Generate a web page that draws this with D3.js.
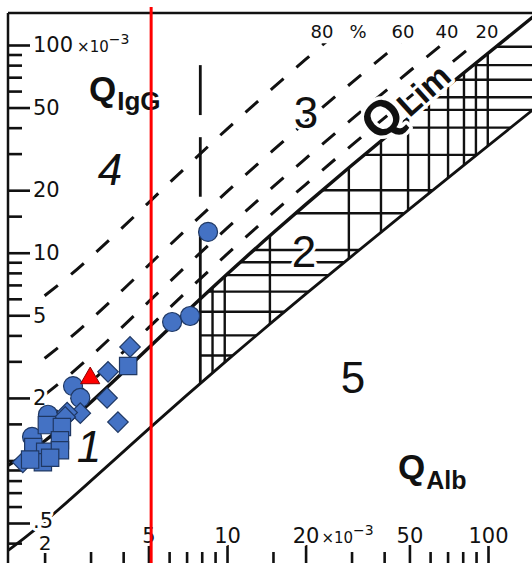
<!DOCTYPE html>
<html lang="en">
<head>
<meta charset="UTF-8">
<script src="https://d3js.org/d3.v7.min.js"></script>
<title>Reiber diagram</title>
<style>
  html, body { margin: 0; padding: 0; background: #fff; }
  svg { display: block; }
</style>
</head>
<body>
<script>
// all quotients in units of 10^-3

// reference curves, read along a QAlb grid
const curveAlb   = [1.4, 1.7, 2, 2.5, 3, 4, 5, 7, 10, 15, 20, 30, 50, 80, 150];
const limUpper   = [0.924, 1.073, 1.241, 1.555, 1.902, 2.662, 3.478, 5.197, 7.875, 12.435, 17.039, 26.293, 44.856, 72.735, 137.82];
const limLower   = [0.357, 0.430, 0.508, 0.648, 0.795, 1.100, 1.415, 2.057, 3.033, 4.672, 6.316, 9.611, 16.207, 26.104, 49.202];

// intrathecal fraction lines (20/40/60/80 %)
const pctAlb = [2, 2.5, 3, 4, 5, 7, 10, 15, 20, 30, 50, 80, 100];
const pct20  = [1.551, 1.944, 2.378, 3.328, 4.348, 6.496, 9.844, 15.544, 21.299, 32.866, 56.07, 90.92, 114.16];
const pct40  = [2.068, 2.592, 3.170, 4.437, 5.797, 8.662, 13.125, 20.725, 28.398, 43.822, 74.76, 121.2];
const pct60  = [3.103, 3.888, 4.755, 6.655, 8.695, 12.993, 19.688, 31.088, 42.598, 65.733, 112.14];
const pct80  = [6.205, 7.775, 9.51, 13.31, 17.39, 25.985, 39.375, 62.175, 85.195, 131.47];

// barrier dysfunction border (QAlb) and its hatched zone
const barrierAlb   = 7.9;
const barrierUpper = 5.99;
const barrierLower = 2.35;
const barrierTop   = 12.6;
const barrierDashes = [[80, 46], [36, 18.6]];
const hatchIgG = [98, 80, 68, 56, 48.7, 40, 29.6, 20, 15.5, 10.3, 9, 7.8, 6.5, 5.2, 4.0, 3.2];
const hatchAlb = [8.8, 9.8, 14.6, 29.3, 38.9, 49.4, 59.4, 70.3, 80.9, 89.9, 99.8];

// patient values
const circleAlb  = [8.46, 6.16, 7.22, 2.57, 2.74, 2.06, 1.79];
const circleIgG  = [12.6, 4.64, 4.96, 2.28, 2.00, 1.66, 1.30];
const diamondAlb = [4.25, 3.50, 3.47, 3.82, 2.74, 2.44, 2.40, 1.65];
const diamondIgG = [3.52, 2.67, 2.00, 1.53, 1.69, 1.70, 1.62, 0.98];
const squareAlb  = [4.18, 2.04, 2.33, 2.29, 1.81, 2.01, 2.29, 1.97, 1.76, 2.10];
const squareIgG  = [2.85, 1.48, 1.45, 1.25, 1.16, 1.10, 1.12, 0.98, 1.01, 1.03];
const triangleAlb = [2.99];
const triangleIgG = [2.49];

const redLineAlb = [5.12];

// axis ticks
const yMajor = [100, 50, 20, 10, 5, 2, 0.5];
const yMinor = [90, 80, 70, 60, 40, 30, 15, 9, 8, 7, 6, 4, 3, 1.5, 1, 0.9, 0.8, 0.7, 0.6, 0.4];
const xMajor = [5, 10, 20, 50, 100];
const xMinor = [2, 3, 4, 6, 7, 8, 9, 15, 30, 40, 60, 70, 80, 90];
const pctLabels = ["80", "%", "60", "40", "20"];

const width = 532, height = 563;
const padLeft = 8, padTop = 13;

const svg = d3.select("body").append("svg")
  .attr("width", width)
  .attr("height", height);

svg.append("rect").attr("width", width).attr("height", height).attr("fill", "#fff");

const x = d3.scaleLog().domain([2, 100]).range([44.6, 488]);
const y = d3.scaleLog().domain([0.5, 100]).range([523, 45]);

const defs = svg.append("defs");
defs.append("clipPath").attr("id", "plot")
  .append("rect").attr("x", padLeft).attr("y", padTop).attr("width", width - padLeft).attr("height", height - padTop);
defs.append("clipPath").attr("id", "dashclip")
  .append("rect").attr("x", padLeft).attr("y", y(102)).attr("width", width - padLeft).attr("height", height);

// hatched zone between the curves, right of the barrier border
const zoneUp = [[barrierAlb, barrierUpper]].concat(curveAlb.map((q, i) => [q, limUpper[i]]).filter(d => d[0] > barrierAlb));
const zoneLo = [[barrierAlb, barrierLower]].concat(curveAlb.map((q, i) => [q, limLower[i]]).filter(d => d[0] > barrierAlb));
const zonePts = zoneUp.concat(zoneLo.reverse());
defs.append("clipPath").attr("id", "zone")
  .append("polygon")
  .attr("points", zonePts.map(d => x(d[0]) + "," + y(d[1])).join(" "));

const plot = svg.append("g").attr("clip-path", "url(#plot)");

const hatch = plot.append("g").attr("clip-path", "url(#zone)")
  .attr("stroke", "#111").attr("stroke-width", 2.4);
hatch.selectAll("line.h").data(hatchIgG).enter().append("line")
  .attr("x1", x(barrierAlb)).attr("x2", x(160))
  .attr("y1", d => y(d)).attr("y2", d => y(d));
hatch.selectAll("line.v").data(hatchAlb).enter().append("line")
  .attr("x1", d => x(d)).attr("x2", d => x(d))
  .attr("y1", y(1)).attr("y2", y(160));

const line = d3.line()
  .x(d => x(d[0]))
  .y(d => y(d[1]))
  .curve(d3.curveMonotoneX);

// solid limit curves
plot.append("path")
  .attr("d", line(curveAlb.map((q, i) => [q, limLower[i]])))
  .attr("fill", "none").attr("stroke", "#111").attr("stroke-width", 2.8);
plot.append("path")
  .attr("d", line(curveAlb.map((q, i) => [q, limUpper[i]])))
  .attr("fill", "none").attr("stroke", "#111").attr("stroke-width", 3.4);

// dashed % lines
const dashG = plot.append("g").attr("clip-path", "url(#dashclip)");
[pct20, pct40, pct60, pct80].forEach(vals => {
  dashG.append("path")
    .attr("d", line(vals.map((v, i) => [pctAlb[i], v])))
    .attr("fill", "none").attr("stroke", "#111")
    .attr("stroke-width", 3).attr("stroke-dasharray", "17,17");
});

// barrier border
plot.append("line")
  .attr("x1", x(barrierAlb)).attr("x2", x(barrierAlb))
  .attr("y1", y(barrierLower)).attr("y2", y(barrierTop))
  .attr("stroke", "#111").attr("stroke-width", 2.8);
plot.selectAll("line.bd").data(barrierDashes).enter().append("line")
  .attr("x1", x(barrierAlb)).attr("x2", x(barrierAlb))
  .attr("y1", d => y(d[0])).attr("y2", d => y(d[1]))
  .attr("stroke", "#111").attr("stroke-width", 2.8);

// frame
svg.append("line").attr("x1", padLeft).attr("x2", width).attr("y1", padTop).attr("y2", padTop)
  .attr("stroke", "#111").attr("stroke-width", 2.5);
svg.append("line").attr("x1", padLeft).attr("x2", padLeft).attr("y1", padTop).attr("y2", height)
  .attr("stroke", "#111").attr("stroke-width", 2.5);

function halo(sel) {
  return sel.attr("stroke", "#fff").attr("stroke-width", 6)
    .attr("stroke-linejoin", "round").attr("paint-order", "stroke");
}

function styleAxis(g, size) {
  g.select(".domain").remove();
  g.selectAll(".tick line").attr("stroke", "#111").attr("stroke-width", 2.6);
  g.selectAll(".tick text")
    .attr("font-family", "DejaVu Sans, sans-serif")
    .attr("font-size", size || 21).attr("fill", "#111")
    .call(halo);
}

// y axis
const yAxMinor = svg.append("g").attr("transform", `translate(${padLeft},0)`)
  .call(d3.axisRight(y).tickValues(yMinor).tickSize(14).tickFormat(""));
styleAxis(yAxMinor);
const yAxMajor = svg.append("g").attr("transform", `translate(${padLeft},0)`)
  .call(d3.axisRight(y).tickValues(yMajor).tickSize(22).tickPadding(3)
    .tickFormat(d => d < 1 ? ".5" : d));
styleAxis(yAxMajor);
yAxMajor.selectAll(".tick text").filter(d => d < 1).attr("dy", "0.2em");

// x axis (axis line sits below the visible area)
const xAxMinor = svg.append("g").attr("transform", `translate(0,566)`)
  .call(d3.axisTop(x).tickValues(xMinor).tickSize(14).tickPadding(2)
    .tickFormat(d => d === 2 ? "2" : ""));
styleAxis(xAxMinor, 20);
const xAxMajor = svg.append("g").attr("transform", `translate(0,566)`)
  .call(d3.axisTop(x).tickValues(xMajor).tickSize(21).tickPadding(2));
styleAxis(xAxMajor);

// "x10^-3" after 100 on y and 20 on x
function addExp(tick, dx, dy) {
  const t = tick.append("text")
    .attr("x", dx).attr("y", dy)
    .attr("text-anchor", "start")
    .attr("font-family", "DejaVu Sans, sans-serif")
    .attr("fill", "#111");
  t.append("tspan").attr("font-size", 15).text("×10");
  t.append("tspan").attr("font-size", 14).attr("dy", -8).text("−3");
}
yAxMajor.selectAll(".tick").filter(d => d === 100).each(function() {
  const w = d3.select(this).select("text").node().getComputedTextLength();
  addExp(d3.select(this), 25 + w + 4, 6);
});
xAxMajor.selectAll(".tick").filter(d => d === 20).each(function() {
  const w = d3.select(this).select("text").node().getComputedTextLength();
  addExp(d3.select(this), w / 2 + 2, -23);
});

// percent labels along the top
const pctX = [322, 358, 403, 447, 487];
svg.selectAll("text.pct").data(pctLabels).enter().append("text")
  .attr("x", (d, i) => pctX[i]).attr("y", 38)
  .attr("text-anchor", "middle")
  .attr("font-family", "DejaVu Sans, sans-serif").attr("font-size", 18)
  .attr("fill", "#111").text(d => d)
  .call(halo);

// region numbers
const regions = [
  { t: "4", x: 110, y: 185, it: true },
  { t: "3", x: 306, y: 128 },
  { t: "2", x: 304, y: 267 },
  { t: "5", x: 353, y: 393 },
  { t: "1", x: 89, y: 462, it: true }
];
svg.selectAll("text.reg").data(regions).enter().append("text")
  .attr("x", d => d.x).attr("y", d => d.y)
  .attr("text-anchor", "middle")
  .attr("font-family", "Liberation Sans, Arial, sans-serif")
  .attr("font-size", 44)
  .attr("font-style", d => d.it ? "italic" : "normal")
  .attr("fill", "#111").text(d => d.t)
  .call(halo);

// axis titles
const qIgG = svg.append("text").attr("x", 89).attr("y", 101)
  .attr("font-family", "Liberation Sans, Arial, sans-serif").attr("font-weight", "bold")
  .attr("fill", "#111").call(halo);
qIgG.append("tspan").attr("font-size", 35).text("Q");
qIgG.append("tspan").attr("font-size", 26).attr("dy", 9).attr("dx", 1).text("IgG");

const qAlb = svg.append("text").attr("x", 398).attr("y", 479)
  .attr("font-family", "Liberation Sans, Arial, sans-serif").attr("font-weight", "bold")
  .attr("fill", "#111").call(halo);
qAlb.append("tspan").attr("font-size", 35).text("Q");
qAlb.append("tspan").attr("font-size", 25).attr("dy", 10).attr("dx", 1).text("Alb");

const qLim = svg.append("text")
  .attr("transform", "translate(379,143) rotate(-42)")
  .attr("font-family", "Liberation Sans, Arial, sans-serif")
  .attr("font-weight", "bold")
  .attr("fill", "#111").call(halo).attr("stroke-width", 7);
qLim.append("tspan").attr("font-size", 49).text("Q");
qLim.append("tspan").attr("font-size", 33).attr("dy", 2).attr("dx", 1).text("Lim");

// markers
const fill = "#4472C4", edge = "#1F3864";
const marks = svg.append("g");

marks.selectAll("circle").data(circleAlb.map((q, i) => [q, circleIgG[i]])).enter()
  .append("circle")
  .attr("cx", d => x(d[0])).attr("cy", d => y(d[1])).attr("r", 9.5)
  .attr("fill", fill).attr("stroke", edge).attr("stroke-width", 1.2);

marks.selectAll("path.dia").data(diamondAlb.map((q, i) => [q, diamondIgG[i]])).enter()
  .append("path").attr("class", "dia")
  .attr("d", d3.symbol().type(d3.symbolSquare).size(210))
  .attr("transform", d => `translate(${x(d[0])},${y(d[1])}) rotate(45)`)
  .attr("fill", fill).attr("stroke", edge).attr("stroke-width", 1.2);

marks.selectAll("path.sq").data(squareAlb.map((q, i) => [q, squareIgG[i]])).enter()
  .append("path").attr("class", "sq")
  .attr("d", d3.symbol().type(d3.symbolSquare).size(300))
  .attr("transform", d => `translate(${x(d[0])},${y(d[1])})`)
  .attr("fill", fill).attr("stroke", edge).attr("stroke-width", 1.2);

marks.selectAll("path.tri").data(triangleAlb.map((q, i) => [q, triangleIgG[i]])).enter()
  .append("path").attr("class", "tri")
  .attr("d", d3.symbol().type(d3.symbolTriangle).size(160))
  .attr("transform", d => `translate(${x(d[0])},${y(d[1])})`)
  .attr("fill", "#FF0000").attr("stroke", "#8B0000").attr("stroke-width", 1);

// red reference line
svg.selectAll("line.red").data(redLineAlb).enter().append("line")
  .attr("x1", d => x(d)).attr("x2", d => x(d))
  .attr("y1", 7).attr("y2", height)
  .attr("stroke", "#FF0000").attr("stroke-width", 3);
</script>
</body>
</html>
